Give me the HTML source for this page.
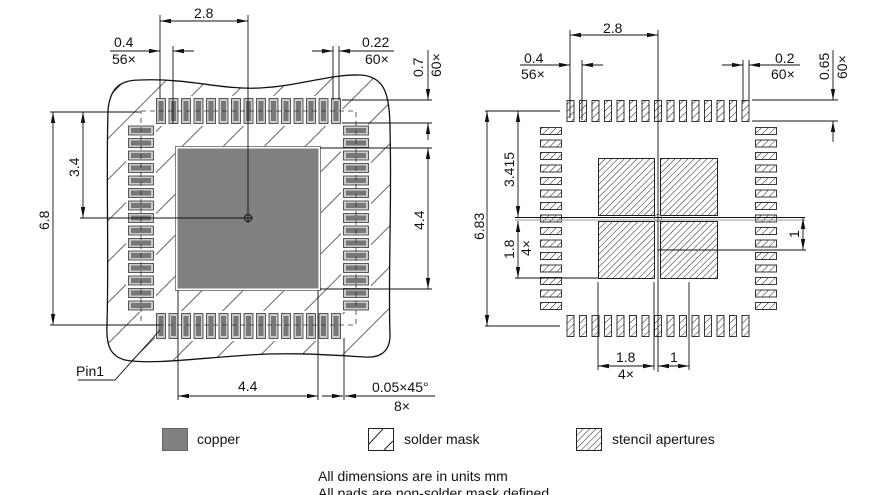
<!DOCTYPE html>
<html><head><meta charset="utf-8"><style>
html,body{margin:0;padding:0;background:#fff;}
svg{display:block;}
text{font-family:"Liberation Sans",Arial,sans-serif;font-size:14px;fill:#111;}
</style></head><body>
<svg width="880" height="495" viewBox="0 0 880 495" xmlns="http://www.w3.org/2000/svg">
<defs>
<marker id="a" viewBox="0 0 10 4" refX="10" refY="2" markerWidth="11" markerHeight="4.5" orient="auto-start-reverse" markerUnits="userSpaceOnUse"><path d="M0,0L10,2L0,4z" fill="#111"/></marker>
<pattern id="mh" width="29" height="29" patternUnits="userSpaceOnUse" patternTransform="rotate(45)"><line x1="0" y1="0" x2="0" y2="29" stroke="#111" stroke-width="1.2"/></pattern>
<pattern id="sh" width="4.5" height="4.5" patternUnits="userSpaceOnUse" patternTransform="rotate(45)"><line x1="0" y1="0" x2="0" y2="4.5" stroke="#222" stroke-width="1"/></pattern>
<pattern id="ph" width="5" height="5" patternUnits="userSpaceOnUse" patternTransform="rotate(45)"><line x1="0" y1="0" x2="0" y2="5" stroke="#222" stroke-width="1"/></pattern>
<pattern id="lpv" x="155" y="0" width="12.5" height="400" patternUnits="userSpaceOnUse"><rect x="1.5" y="98.5" width="9" height="25" fill="#ccc" stroke="#333" stroke-width="0.8"/><rect x="3.5" y="101" width="5" height="20" fill="#777"/></pattern>
<pattern id="lpv2" x="155" y="0" width="12.5" height="400" patternUnits="userSpaceOnUse"><rect x="1.5" y="313.5" width="9" height="25" fill="#ccc" stroke="#333" stroke-width="0.8"/><rect x="3.5" y="316" width="5" height="20" fill="#777"/></pattern>
<pattern id="lph" x="0" y="124.5" width="400" height="12.5" patternUnits="userSpaceOnUse"><rect x="128.5" y="1.5" width="25" height="9" fill="#ccc" stroke="#333" stroke-width="0.8"/><rect x="131" y="3.5" width="20" height="5" fill="#777"/></pattern>
<pattern id="lph2" x="0" y="124.5" width="400" height="12.5" patternUnits="userSpaceOnUse"><rect x="343.5" y="1.5" width="25" height="9" fill="#ccc" stroke="#333" stroke-width="0.8"/><rect x="346" y="3.5" width="20" height="5" fill="#777"/></pattern>
<pattern id="rpv" x="565" y="0" width="12.5" height="400" patternUnits="userSpaceOnUse"><rect x="2" y="100.5" width="7" height="21" fill="url(#ph)" stroke="#222" stroke-width="0.9"/></pattern>
<pattern id="rpv2" x="565" y="0" width="12.5" height="400" patternUnits="userSpaceOnUse"><rect x="2" y="315.5" width="7" height="21" fill="url(#ph)" stroke="#222" stroke-width="0.9"/></pattern>
<pattern id="rph" x="0" y="125" width="900" height="12.5" patternUnits="userSpaceOnUse"><rect x="540.5" y="2.5" width="21" height="7" fill="url(#ph)" stroke="#222" stroke-width="0.9"/><rect x="755.5" y="2.5" width="21" height="7" fill="url(#ph)" stroke="#222" stroke-width="0.9"/></pattern>
</defs>

<path d="M108,110 C110,90 118,80 140,80 C190,78 220,90 260,88 C300,86 330,74 360,75 C385,76 390,95 390,130 C392,200 388,280 390,335 C390,352 380,358 365,357 C330,355 290,352 250,355 C200,358 150,365 125,360 C110,356 106,345 107,325 C109,250 106,180 108,110 Z" fill="url(#mh)" stroke="#111" stroke-width="1.3"/>
<rect x="176.5" y="147.5" width="143" height="142" fill="#808080" stroke="#fff" stroke-width="2"/>
<rect x="175.5" y="146.5" width="145" height="144" fill="none" stroke="#666" stroke-width="0.8"/>
<rect x="155" y="96" width="187.5" height="30" fill="#fff"/>
<rect x="155" y="96" width="187.5" height="30" fill="url(#lpv)"/>
<rect x="155" y="311" width="187.5" height="30" fill="#fff"/>
<rect x="155" y="311" width="187.5" height="30" fill="url(#lpv2)"/>
<rect x="126" y="124.5" width="30" height="187.5" fill="#fff"/>
<rect x="126" y="124.5" width="30" height="187.5" fill="url(#lph)"/>
<rect x="341" y="124.5" width="30" height="187.5" fill="#fff"/>
<rect x="341" y="124.5" width="30" height="187.5" fill="url(#lph2)"/>
<rect x="141" y="111" width="215" height="214" fill="none" stroke="#333" stroke-width="0.8" stroke-dasharray="5,4"/>
<circle cx="248" cy="218" r="3.5" fill="none" stroke="#111" stroke-width="1"/>
<line x1="243" y1="218" x2="253" y2="218" stroke="#111"/>

<g stroke="#111" stroke-width="0.9" fill="none">
<line x1="160" y1="15" x2="160" y2="98"/>
<line x1="248" y1="15" x2="248" y2="223"/>
<line x1="160" y1="21" x2="248" y2="21" marker-start="url(#a)" marker-end="url(#a)"/>
<line x1="173" y1="46" x2="173" y2="124"/>
<line x1="110" y1="51" x2="160" y2="51" marker-end="url(#a)"/>
<line x1="194" y1="51" x2="173" y2="51" marker-end="url(#a)"/>
<line x1="333" y1="46" x2="333" y2="100"/>
<line x1="339" y1="46" x2="339" y2="100"/>
<line x1="312" y1="51" x2="333" y2="51" marker-end="url(#a)"/>
<line x1="394" y1="51" x2="339" y2="51" marker-end="url(#a)"/>
<line x1="428" y1="50" x2="428" y2="100" marker-end="url(#a)"/>
<line x1="428" y1="140" x2="428" y2="123" marker-end="url(#a)"/>
<line x1="342" y1="100" x2="432" y2="100"/>
<line x1="342" y1="123" x2="432" y2="123"/>
<line x1="320" y1="148" x2="432" y2="148"/>
<line x1="320" y1="289" x2="432" y2="289"/>
<line x1="428" y1="148" x2="428" y2="289" marker-start="url(#a)" marker-end="url(#a)"/>
<line x1="50" y1="112" x2="140" y2="112"/>
<line x1="80" y1="218" x2="244" y2="218"/>
<line x1="50" y1="325" x2="160" y2="325"/>
<line x1="83" y1="112" x2="83" y2="218" marker-start="url(#a)" marker-end="url(#a)"/>
<line x1="53" y1="112" x2="53" y2="325" marker-start="url(#a)" marker-end="url(#a)"/>
<polyline points="78,380 115,380 160,330"/>
<line x1="178" y1="290" x2="178" y2="400"/>
<line x1="318" y1="290" x2="318" y2="400"/>
<line x1="178" y1="396" x2="318" y2="396" marker-start="url(#a)" marker-end="url(#a)"/>
<line x1="344" y1="338" x2="344" y2="400"/>
<line x1="322" y1="396" x2="343" y2="396" marker-end="url(#a)"/>
<line x1="435" y1="396" x2="345" y2="396" marker-end="url(#a)"/>
</g>
<text x="194" y="18">2.8</text>
<text x="114" y="47">0.4</text>
<text x="112" y="64">56×</text>
<text x="362" y="47">0.22</text>
<text x="365" y="64">60×</text>
<text transform="translate(423,77) rotate(-90)">0.7</text>
<text transform="translate(441,77) rotate(-90)">60×</text>
<text transform="translate(424,230) rotate(-90)">4.4</text>
<text transform="translate(79,177) rotate(-90)">3.4</text>
<text transform="translate(49,230) rotate(-90)">6.8</text>
<text x="76" y="376">Pin1</text>
<text x="238" y="391">4.4</text>
<text x="372" y="392">0.05×45°</text>
<text x="394" y="411">8×</text>

<rect x="565" y="98" width="187.5" height="26" fill="url(#rpv)"/>
<rect x="565" y="313" width="187.5" height="26" fill="url(#rpv2)"/>
<rect x="535" y="125" width="250" height="187.5" fill="url(#rph)"/>
<g fill="url(#sh)" stroke="#222" stroke-width="1">
<rect x="598.5" y="158.5" width="56" height="57"/>
<rect x="660.5" y="158.5" width="57" height="57"/>
<rect x="598.5" y="221.5" width="56" height="57"/>
<rect x="660.5" y="221.5" width="57" height="57"/>
</g>
<circle cx="658" cy="218" r="3.5" fill="none" stroke="#666" stroke-width="0.8"/>
<g stroke="#111" stroke-width="0.9" fill="none">
<line x1="570" y1="30" x2="570" y2="118"/>
<line x1="658" y1="30" x2="658" y2="372"/>
<line x1="570" y1="35" x2="658" y2="35" marker-start="url(#a)" marker-end="url(#a)"/>
<line x1="582" y1="60" x2="582" y2="120"/>
<line x1="520" y1="65" x2="570" y2="65" marker-end="url(#a)"/>
<line x1="603" y1="65" x2="582" y2="65" marker-end="url(#a)"/>
<line x1="743" y1="60" x2="743" y2="102"/>
<line x1="749" y1="60" x2="749" y2="102"/>
<line x1="722" y1="65" x2="743" y2="65" marker-end="url(#a)"/>
<line x1="800" y1="65" x2="749" y2="65" marker-end="url(#a)"/>
<line x1="833" y1="50" x2="833" y2="100" marker-end="url(#a)"/>
<line x1="833" y1="142" x2="833" y2="121" marker-end="url(#a)"/>
<line x1="752" y1="100" x2="838" y2="100"/>
<line x1="752" y1="121" x2="838" y2="121"/>
<line x1="485" y1="111" x2="560" y2="111"/>
<line x1="485" y1="326" x2="560" y2="326"/>
<line x1="487" y1="111" x2="487" y2="326" marker-start="url(#a)" marker-end="url(#a)"/>
<line x1="518" y1="111" x2="518" y2="217" marker-start="url(#a)" marker-end="url(#a)"/>
<line x1="515" y1="217.5" x2="805" y2="217.5"/>
<line x1="515" y1="220" x2="805" y2="220" stroke="#999"/>
<line x1="518" y1="221" x2="518" y2="278" marker-start="url(#a)" marker-end="url(#a)"/>
<line x1="515" y1="278" x2="598" y2="278"/>
<line x1="658" y1="250" x2="806" y2="250"/>
<line x1="803" y1="218" x2="803" y2="250" marker-start="url(#a)" marker-end="url(#a)"/>
<line x1="598" y1="282" x2="598" y2="370"/>
<line x1="654" y1="282" x2="654" y2="370"/>
<line x1="689" y1="282" x2="689" y2="370"/>
<line x1="598" y1="366" x2="654" y2="366" marker-start="url(#a)" marker-end="url(#a)"/>
<line x1="658" y1="366" x2="689" y2="366" marker-start="url(#a)" marker-end="url(#a)"/>
</g>
<text x="603" y="33">2.8</text>
<text x="524" y="63">0.4</text>
<text x="521" y="79">56×</text>
<text x="775" y="63">0.2</text>
<text x="771" y="79">60×</text>
<text transform="translate(829,80) rotate(-90)">0.65</text>
<text transform="translate(847,79) rotate(-90)">60×</text>
<text transform="translate(484,240) rotate(-90)">6.83</text>
<text transform="translate(514,187) rotate(-90)">3.415</text>
<text transform="translate(514,259) rotate(-90)">1.8</text>
<text transform="translate(531,256) rotate(-90)">4×</text>
<text transform="translate(799,238) rotate(-90)">1</text>
<text x="616" y="362">1.8</text>
<text x="618" y="379">4×</text>
<text x="670" y="362">1</text>

<rect x="162.5" y="428.5" width="25" height="22" fill="#808080" stroke="#666"/>
<text x="197" y="444">copper</text>
<rect x="368.5" y="428.5" width="25" height="22" fill="#fff" stroke="#222"/>
<line x1="369" y1="444" x2="383" y2="429" stroke="#222"/>
<line x1="384" y1="450" x2="393" y2="441" stroke="#222"/>
<text x="404" y="444">solder mask</text>
<rect x="576.5" y="428.5" width="25" height="22" fill="url(#sh)" stroke="#222"/>
<text x="612" y="444">stencil apertures</text>
<text x="318" y="481">All dimensions are in units mm</text>
<text x="318" y="498">All pads are non-solder mask defined</text>
</svg>
</body></html>
